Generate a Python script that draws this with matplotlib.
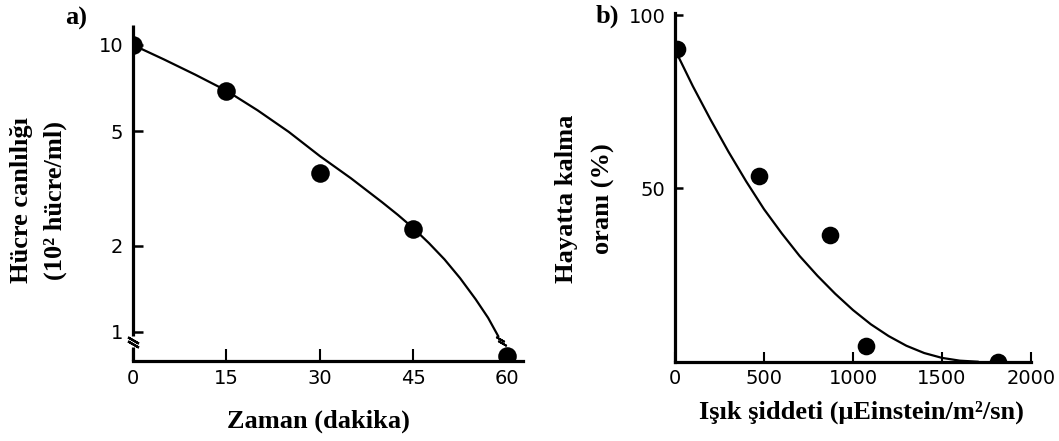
import matplotlib
matplotlib.use("Agg")
import matplotlib.pyplot as plt
from matplotlib.ticker import NullLocator

# ---------------- data ----------------
# panel a
a_time = [0, 15, 30, 45, 60]
a_viab = [10.0, 6.93, 3.59, 2.28, 0.825]
a_curve_t = [0, 5, 10, 15, 20, 25, 30, 35, 40, 42.5, 45, 47.5, 50, 52.5, 55, 57, 58.7]
a_curve_v = [10.0, 8.9, 7.88, 6.93, 5.92, 4.98, 4.1, 3.43, 2.83, 2.56, 2.3,
             2.04, 1.79, 1.54, 1.3, 1.12, 0.96]
a_xticks = [0, 15, 30, 45, 60]
a_yticks = [1, 2, 5, 10]

# panel b
b_light = [13, 474, 871, 1074, 1812]
b_surv = [90.1, 53.6, 36.5, 4.5, 0.0]
b_curve_x = [0, 100, 200, 300, 400, 500, 600, 700, 800, 900, 1000, 1100,
             1200, 1300, 1400, 1500, 1600, 1700]
b_curve_y = [90, 79.5, 69.8, 60.6, 52.0, 44.0, 37.0, 30.5, 24.8, 19.6, 14.9,
             10.8, 7.4, 4.6, 2.5, 1.1, 0.3, 0.0]
b_xticks = [0, 500, 1000, 1500, 2000]
b_yticks = [50, 100]

# ---------------- figure ----------------
W, H = 1059, 441
fig = plt.figure(figsize=(W / 100, H / 100), dpi=100)

def ax_rect(l, r, t, b):
    return [l / W, 1 - b / H, (r - l) / W, (b - t) / H]

lab_font = dict(family="Liberation Serif", fontweight="bold", fontsize=19)
tick_fs = 14
spine_lw = 2.3

# ---- panel a ----
axa = fig.add_axes(ax_rect(133, 523, 25, 360.7))
axa.set_yscale("log")
axa.set_xlim(0, 62.6)
axa.set_ylim(0.794, 11.74)
axa.plot(a_curve_t, a_curve_v, color="black", lw=1.6, solid_capstyle="butt")
axa.scatter(a_time, a_viab, s=13.4 ** 2, color="black", linewidths=0,
            clip_on=True, zorder=3)
for s in ["top", "right", "left"]:
    axa.spines[s].set_visible(False)
axa.spines["bottom"].set_linewidth(spine_lw)
axa.spines["bottom"].set_zorder(4)
axa.yaxis.set_minor_locator(NullLocator())
axa.set_yticks(a_yticks)
axa.set_yticklabels([str(v) for v in a_yticks])
axa.set_xticks(a_xticks)
axa.set_xticklabels([str(v) for v in a_xticks])
axa.tick_params(axis="y", direction="in", length=7, width=1.8, pad=7,
                labelsize=tick_fs)
axa.tick_params(axis="x", direction="in", length=9, width=1.5, pad=6,
                labelsize=tick_fs)
# broken left spine
tr = axa.get_yaxis_transform()
axa.plot([0, 0], [0.97, 11.74], color="black", lw=spine_lw, transform=tr,
         clip_on=False, solid_capstyle="butt", zorder=4)
axa.plot([0, 0], [0.794, 0.885], color="black", lw=spine_lw, transform=tr,
         clip_on=False, solid_capstyle="butt", zorder=4)
axa.plot([0], [0.94], marker=(2, 2, 60), color="black", ms=9, mew=1.6,
         transform=tr, clip_on=False)
axa.plot([0], [0.905], marker=(2, 2, 60), color="black", ms=9, mew=1.6,
         transform=tr, clip_on=False)
# break on curve
axa.plot([58.95, 59.25], [0.945, 0.915], ls="none", marker=(2, 2, 60),
         color="black", ms=7, mew=1.4)

# ---- panel b ----
axb = fig.add_axes(ax_rect(675, 1031, 13.3, 361.7))
axb.set_xlim(0, 2000)
axb.set_ylim(0, 100.5)
axb.plot(b_curve_x, b_curve_y, color="black", lw=1.6)
axb.scatter(b_light, b_surv, s=12.7 ** 2, color="black", linewidths=0,
            clip_on=True, zorder=3)
for s in ["top", "right"]:
    axb.spines[s].set_visible(False)
for s in ["left", "bottom"]:
    axb.spines[s].set_linewidth(spine_lw)
    axb.spines[s].set_zorder(4)
axb.set_xticks(b_xticks)
axb.set_xticklabels([str(v) for v in b_xticks])
axb.set_yticks(b_yticks)
axb.set_yticklabels([str(v) for v in b_yticks])
axb.tick_params(axis="y", direction="in", length=6, width=1.8, pad=7,
                labelsize=tick_fs)
axb.tick_params(axis="x", direction="in", length=7, width=1.5, pad=5,
                labelsize=tick_fs)

# ---------------- labels ----------------
fig.text(22 / W, 1 - 200 / H, "Hücre canlılığı", rotation=90,
         ha="center", va="center", **lab_font)
fig.text(55 / W, 1 - 200 / H, "(10² hücre/ml)", rotation=90,
         ha="center", va="center", **lab_font)
fig.text(318 / W, 1 - 421 / H, "Zaman (dakika)", ha="center", va="center",
         **lab_font)

fig.text(566 / W, 1 - 199 / H, "Hayatta kalma", rotation=90,
         ha="center", va="center", **lab_font)
fig.text(603 / W, 1 - 199 / H, "oranı (%)", rotation=90,
         ha="center", va="center", **lab_font)
fig.text(861 / W, 1 - 412 / H, "Işık şiddeti (μEinstein/m²/sn)",
         ha="center", va="center", **lab_font)

fig.text(76 / W, 1 - 18 / H, "a)", ha="center", va="center", **lab_font)
fig.text(607 / W, 1 - 16 / H, "b)", ha="center", va="center", **lab_font)

fig.savefig("out.png", dpi=100)
